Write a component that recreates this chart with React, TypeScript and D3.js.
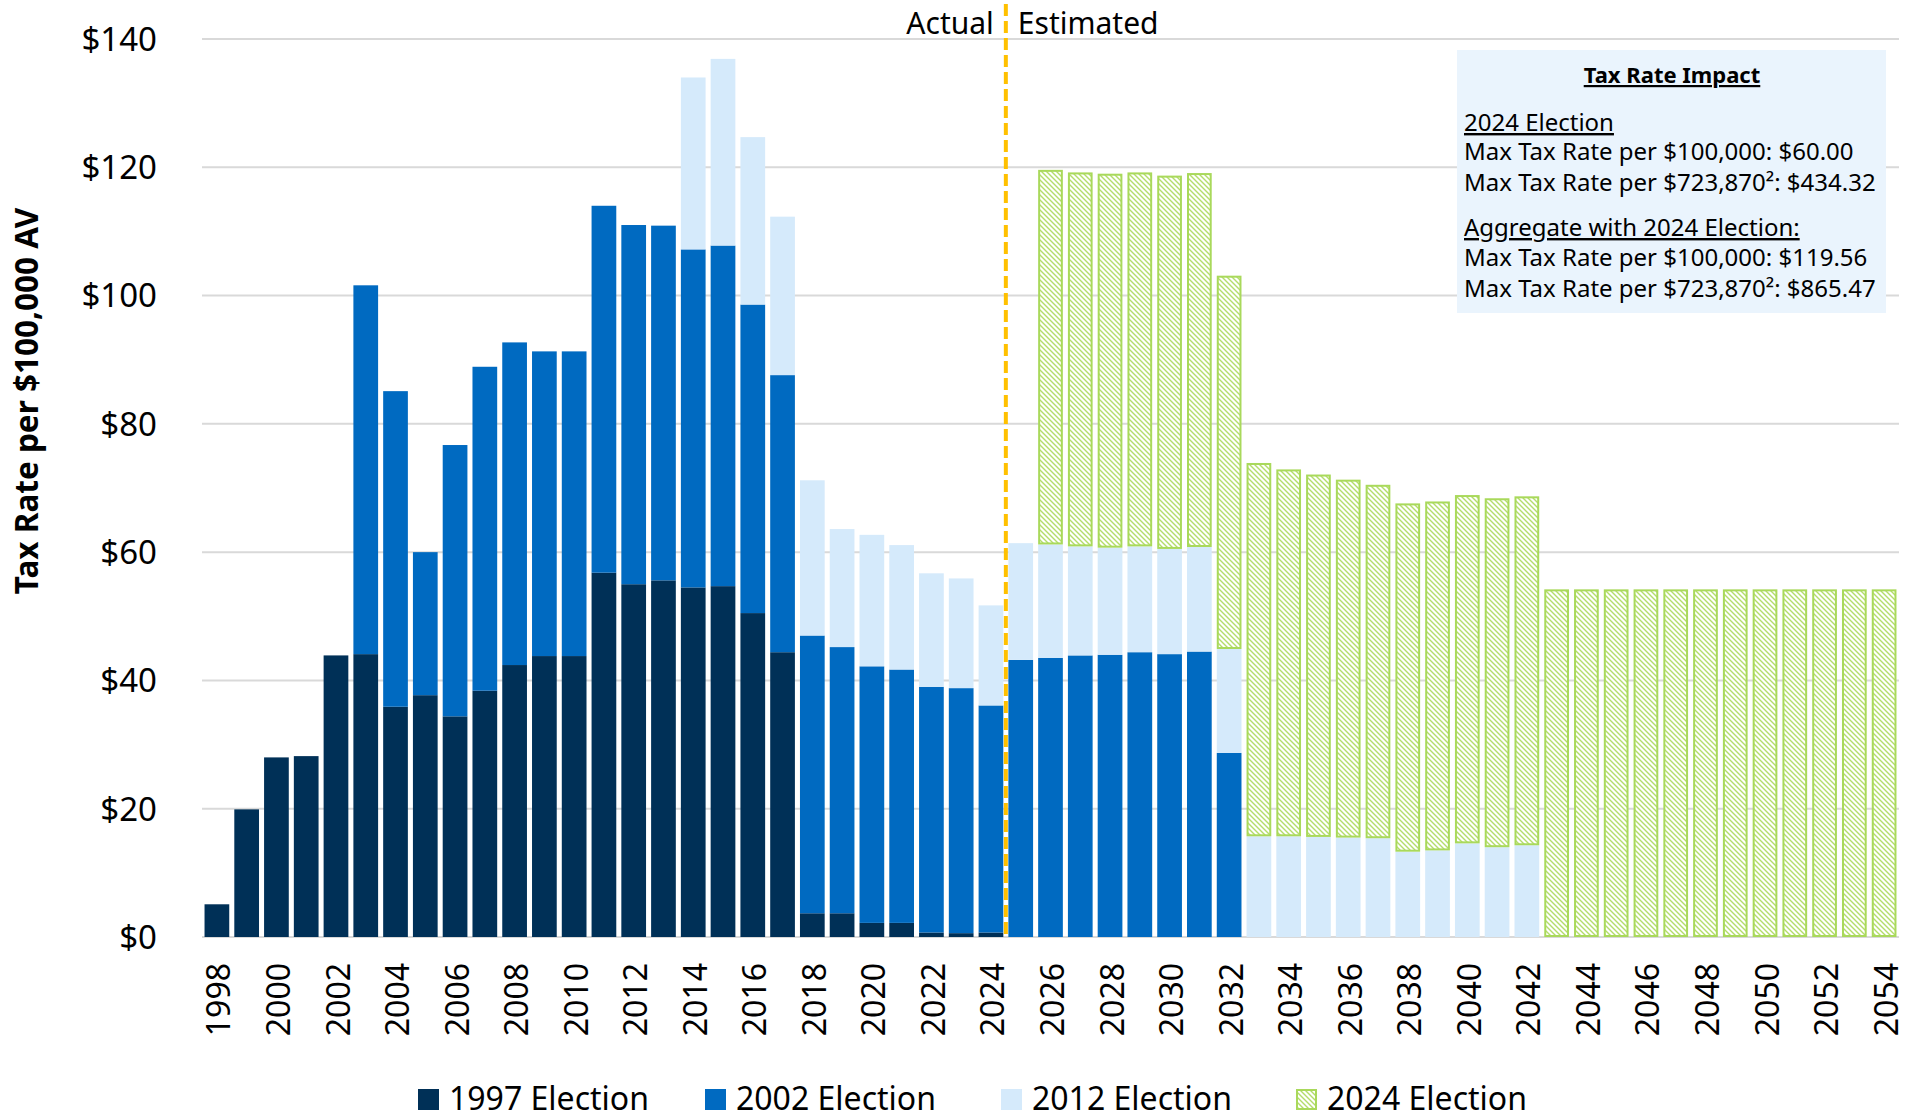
import React from 'react'
import * as d3 from 'd3'

// categories
const years = [
  1998, 1999, 2000, 2001, 2002, 2003, 2004, 2005, 2006, 2007, 2008, 2009, 2010, 2011,
  2012, 2013, 2014, 2015, 2016, 2017, 2018, 2019, 2020, 2021, 2022, 2023, 2024, 2025,
  2026, 2027, 2028, 2029, 2030, 2031, 2032, 2033, 2034, 2035, 2036, 2037, 2038, 2039,
  2040, 2041, 2042, 2043, 2044, 2045, 2046, 2047, 2048, 2049, 2050, 2051, 2052, 2053, 2054,
]

// tax rate per $100,000 AV, by election (stack segments)
const election1997 = [
  5.1, 19.9, 28.0, 28.2, 43.9, 44.1, 35.9, 37.7, 34.4, 38.4, 42.4, 43.8, 43.8, 56.8,
  55.0, 55.6, 54.5, 54.7, 50.5, 44.4, 3.7, 3.7, 2.2, 2.2, 0.7, 0.6, 0.7, 0,
  0, 0, 0, 0, 0, 0, 0, 0, 0, 0, 0, 0, 0, 0,
  0, 0, 0, 0, 0, 0, 0, 0, 0, 0, 0, 0, 0, 0, 0,
]
const election2002 = [
  0, 0, 0, 0, 0, 57.5, 49.2, 22.3, 42.3, 50.5, 50.3, 47.5, 47.5, 57.2,
  56.0, 55.3, 52.7, 53.1, 48.1, 43.2, 43.3, 41.5, 40.0, 39.5, 38.3, 38.2, 35.4, 43.2,
  43.5, 43.9, 44.0, 44.4, 44.1, 44.5, 28.7, 0, 0, 0, 0, 0, 0, 0,
  0, 0, 0, 0, 0, 0, 0, 0, 0, 0, 0, 0, 0, 0, 0,
]
const election2012 = [
  0, 0, 0, 0, 0, 0, 0, 0, 0, 0, 0, 0, 0, 0,
  0, 0, 26.8, 29.1, 26.1, 24.7, 24.2, 18.4, 20.5, 19.4, 17.7, 17.1, 15.6, 18.2,
  17.7, 17.0, 16.7, 16.5, 16.4, 16.3, 16.2, 15.7, 15.7, 15.6, 15.5, 15.4, 13.3, 13.5,
  14.6, 14.0, 14.3, 0, 0, 0, 0, 0, 0, 0, 0, 0, 0, 0, 0,
]
const election2024 = [
  0, 0, 0, 0, 0, 0, 0, 0, 0, 0, 0, 0, 0, 0,
  0, 0, 0, 0, 0, 0, 0, 0, 0, 0, 0, 0, 0, 0,
  58.4, 58.3, 58.3, 58.3, 58.2, 58.3, 58.2, 58.2, 57.2, 56.5, 55.8, 55.1, 54.3, 54.4,
  54.3, 54.4, 54.4, 54.2, 54.2, 54.2, 54.2, 54.2, 54.2, 54.2, 54.2, 54.2, 54.2, 54.2, 54.2,
]

const yTicks = [0, 20, 40, 60, 80, 100, 120, 140]
const xTickYears = years.filter((y) => y % 2 === 0)
const seriesKeys = ['1997 Election', '2002 Election', '2012 Election', '2024 Election']
const seriesColors = ['#003057', '#006ac1', '#d5eafb', 'url(#hatch)']

const boxLines = [
  'Max Tax Rate per $100,000: $60.00',
  'Max Tax Rate per $723,870²: $434.32',
]
const boxLines2 = [
  'Max Tax Rate per $100,000: $119.56',
  'Max Tax Rate per $723,870²: $865.47',
]

const W = 1915
const H = 1119
const font = "'Noto Sans', sans-serif"
const green = '#a9d95b'

export default function App() {
  React.useEffect(() => {
    document.body.style.margin = '0'
    document.body.style.overflow = 'hidden'
  }, [])

  const x = d3.scaleBand<string>()
    .domain(years.map(String))
    .range([202, 1899])
    .paddingInner(0.17)
    .paddingOuter(0.085)

  const y = d3.scaleLinear().domain([0, 140]).range([937, 39])

  const rows = years.map((yr, i) => ({
    year: String(yr),
    '1997 Election': election1997[i],
    '2002 Election': election2002[i],
    '2012 Election': election2012[i],
    '2024 Election': election2024[i],
  }))
  const stacked = d3.stack<any>().keys(seriesKeys)(rows)

  const bw = x.bandwidth()
  const divX = ((x('2024') as number) + bw + (x('2025') as number)) / 2

  const legendX = [418, 705, 1001, 1296]

  return (
    <svg width={W} height={H} style={{ position: 'absolute', left: 0, top: 0, background: '#fff' }} fontFamily={font}>
      <defs>
        <pattern id="hatch" patternUnits="userSpaceOnUse" width="5" height="5">
          <rect width="5" height="5" fill="#fff" />
          <path d="M-1,-1 L6,6 M-1,4 L1,6 M4,-1 L6,1" stroke="#b3dd6a" strokeWidth="1.4" />
        </pattern>
      </defs>

      {/* gridlines */}
      {yTicks.map((t) => (
        <line key={t} x1={202} x2={1899} y1={y(t)} y2={y(t)} stroke="#d9d9d9" strokeWidth={2} />
      ))}

      {/* y tick labels */}
      {yTicks.map((t) => (
        <text key={t} x={157} y={y(t)} dy="0.36em" textAnchor="end" fontSize={33} fill="#000">
          {'$' + t}
        </text>
      ))}

      {/* y axis title */}
      <text transform="translate(27,401) rotate(-90)" textAnchor="middle" dy="0.35em" fontSize={31.5} fontWeight="bold" fill="#000">
        Tax Rate per $100,000 AV
      </text>

      {/* bars */}
      {stacked.map((layer, li) => (
        <g key={layer.key}>
          {layer.map((d, i) => {
            const h = y(d[0]) - y(d[1])
            if (h <= 0.01) return null
            const bx = x(rows[i].year) as number
            if (li === 3) {
              return (
                <rect key={i} x={bx + 1} y={y(d[1]) + 1} width={bw - 2} height={h - 2}
                  fill="url(#hatch)" stroke={green} strokeWidth={2} />
              )
            }
            return <rect key={i} x={bx} y={y(d[1])} width={bw} height={h} fill={seriesColors[li]} />
          })}
        </g>
      ))}

      {/* x tick labels */}
      {xTickYears.map((yr) => (
        <text key={yr} transform={`translate(${(x(String(yr)) as number) + bw / 2 + 2},963) rotate(-90)`}
          textAnchor="end" dy="0.36em" fontSize={32} fill="#000">
          {yr}
        </text>
      ))}

      {/* actual / estimated divider */}
      <line x1={divX} x2={divX} y1={4} y2={937} stroke="#ffc000" strokeWidth={4} strokeDasharray="12 5" />
      <text x={divX - 12} y={34} textAnchor="end" fontSize={30} fill="#000">Actual</text>
      <text x={divX + 12} y={34} textAnchor="start" fontSize={30} fill="#000">Estimated</text>

      {/* annotation box */}
      <rect x={1457} y={50} width={429} height={263} fill="#eaf4fd" />
      <text x={1672} y={83} textAnchor="middle" fontSize={22} fontWeight="bold" textDecoration="underline" fill="#000">
        Tax Rate Impact
      </text>
      <text x={1464} y={131} fontSize={24} textDecoration="underline" fill="#000">2024 Election</text>
      {boxLines.map((l, i) => (
        <text key={i} x={1464} y={160 + i * 31} fontSize={24} fill="#000">{l}</text>
      ))}
      <text x={1464} y={236} fontSize={24} textDecoration="underline" fill="#000">Aggregate with 2024 Election:</text>
      {boxLines2.map((l, i) => (
        <text key={i} x={1464} y={266 + i * 30.5} fontSize={24} fill="#000">{l}</text>
      ))}

      {/* legend */}
      {seriesKeys.map((k, i) => (
        <g key={k}>
          {i === 3 ? (
            <rect x={legendX[i] + 1} y={1090} width={19} height={19} fill="url(#hatch)" stroke={green} strokeWidth={2} />
          ) : (
            <rect x={legendX[i]} y={1089} width={21} height={21} fill={seriesColors[i]} />
          )}
          <text x={legendX[i] + 31} y={1110} fontSize={32} fill="#000">{k}</text>
        </g>
      ))}
    </svg>
  )
}
